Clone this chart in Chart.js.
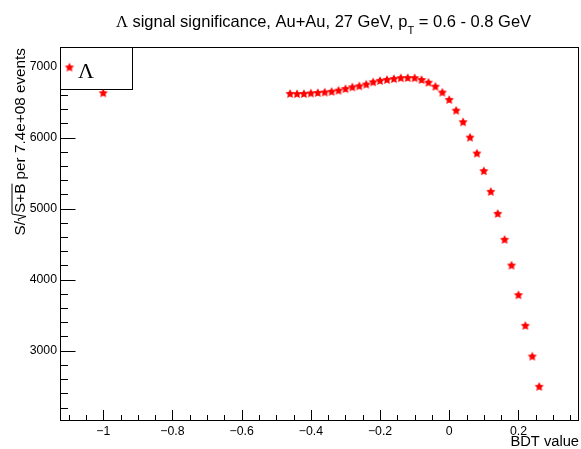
<!DOCTYPE html>
<html>
<head>
<meta charset="utf-8">
<script src="https://cdn.jsdelivr.net/npm/chart.js@4/dist/chart.umd.min.js"></script>
<style>
  html, body { margin: 0; padding: 0; background: #fff; }
  canvas { display: block; }
</style>
</head>
<body>
<canvas id="sig" width="581" height="449"></canvas>
<script>
// BDT cut value and the resulting significance
const bdtValues = [
  -1.00,
  -0.46, -0.44, -0.42, -0.40, -0.38, -0.36, -0.34, -0.32, -0.30, -0.28,
  -0.26, -0.24, -0.22, -0.20, -0.18, -0.16, -0.14, -0.12, -0.10, -0.08,
  -0.06, -0.04, -0.02, 0.00, 0.02, 0.04, 0.06, 0.08, 0.10, 0.12,
  0.14, 0.16, 0.18, 0.20, 0.22, 0.24, 0.26
];
const significance = [
  6624,
  6615, 6612, 6614, 6622, 6628, 6635, 6645, 6660, 6683, 6707,
  6722, 6746, 6778, 6798, 6812, 6824, 6836, 6838, 6836, 6811,
  6773, 6717, 6633, 6530, 6379, 6216, 6000, 5775, 5527, 5236,
  4926, 4561, 4199, 3782, 3350, 2918, 2492
];

const xTicks = [-1, -0.8, -0.6, -0.4, -0.2, 0, 0.2];
const yTicks = [3000, 4000, 5000, 6000, 7000];
const xRange = [-1.125, 0.375];
const yRange = [2010, 7275];

const FONT = '"Liberation Sans", Arial, sans-serif';
const SERIF = '"Liberation Serif", "Times New Roman", serif';

// filled 5-point star marker
function makeStar(color, r) {
  const size = Math.ceil(r * 2 + 2);
  const c = document.createElement('canvas');
  c.width = size; c.height = size;
  const g = c.getContext('2d');
  const cx = size / 2, cy = size / 2;
  g.beginPath();
  for (let i = 0; i < 10; i++) {
    const rad = i % 2 === 0 ? r : r * 0.5;
    const a = -Math.PI / 2 + i * Math.PI / 5;
    const px = cx + rad * Math.cos(a), py = cy + rad * Math.sin(a);
    if (i === 0) g.moveTo(px, py); else g.lineTo(px, py);
  }
  g.closePath();
  g.fillStyle = color;
  g.fill();
  return c;
}
const star = makeStar('#ff0000', 4.8);

function fmtTick(v) {
  const r = Math.round(v * 10) / 10;
  return String(r).replace('-', '\u2212');
}

// draw a run of [text, font, dy] pieces starting at x
function drawRun(ctx, parts, x, y) {
  for (const [t, f, dy] of parts) {
    ctx.font = f;
    ctx.fillText(t, x, y + dy);
    x += ctx.measureText(t).width;
  }
  return x;
}
function runWidth(ctx, parts) {
  let w = 0;
  for (const [t, f] of parts) { ctx.font = f; w += ctx.measureText(t).width; }
  return w;
}

// frame, inward ticks, title, axis titles and legend
const decorations = {
  id: 'decorations',
  afterDraw(chart) {
    const { ctx, chartArea: a, scales: { x, y } } = chart;
    ctx.save();
    ctx.strokeStyle = '#000';
    ctx.lineWidth = 1;
    ctx.strokeRect(a.left + 0.5, a.top + 0.5, a.right - a.left - 1, a.bottom - a.top - 1);

    ctx.beginPath();
    for (let v = -1.1; v <= xRange[1]; v += 0.05) {
      const px = Math.round(x.getPixelForValue(v)) + 0.5;
      const major = Math.abs(v / 0.2 - Math.round(v / 0.2)) < 1e-6;
      ctx.moveTo(px, a.bottom);
      ctx.lineTo(px, a.bottom - (major ? 11 : 6));
    }
    for (let v = 2200; v <= yRange[1]; v += 200) {
      const py = Math.round(y.getPixelForValue(v)) + 0.5;
      const major = v % 1000 === 0;
      ctx.moveTo(a.left, py);
      ctx.lineTo(a.left + (major ? 15.5 : 8), py);
    }
    ctx.stroke();

    // title with subscript
    ctx.fillStyle = '#000';
    ctx.textBaseline = 'alphabetic';
    const tFont = '16.5px ' + FONT;
    const title = [
      ['\u039b', '16.5px ' + SERIF, 0],
      [' signal significance, Au+Au, 27 GeV, p', tFont, 0],
      ['T', '11px ' + FONT, 7],
      [' = 0.6 - 0.8 GeV', tFont, 0]
    ];
    drawRun(ctx, title, 323.5 - runWidth(ctx, title) / 2, 27);

    // x title
    ctx.font = '14.7px ' + FONT;
    ctx.textAlign = 'right';
    ctx.fillText('BDT value', 579, 446);

    // y title, rotated, with a drawn radical
    ctx.save();
    ctx.translate(25, 48);
    ctx.rotate(-Math.PI / 2);
    ctx.textAlign = 'left';
    ctx.font = '15.3px ' + FONT;
    const a1 = 'S/', a2 = 'S+B', a3 = ' per 7.4e+08 events';
    const radW = 8;
    const wa1 = ctx.measureText(a1).width, wa2 = ctx.measureText(a2).width, wa3 = ctx.measureText(a3).width;
    let sx = -(wa1 + radW + wa2 + wa3);
    ctx.fillText(a1, sx, 0); sx += wa1;
    ctx.beginPath();
    ctx.moveTo(sx, -6);
    ctx.lineTo(sx + 2, -7);
    ctx.lineTo(sx + 4.5, 1);
    ctx.lineTo(sx + radW - 1, -13);
    ctx.lineTo(sx + radW + wa2, -13);
    ctx.stroke();
    sx += radW;
    ctx.fillText(a2, sx, 0); sx += wa2;
    ctx.fillText(a3, sx, 0);
    ctx.restore();

    // legend
    ctx.fillStyle = '#fff';
    ctx.fillRect(60, 47, 72, 42);
    ctx.strokeRect(60.5, 47.5, 72, 42);
    ctx.drawImage(star, 69.5 - star.width / 2, 67.5 - star.height / 2);
    ctx.fillStyle = '#000';
    ctx.font = '22px ' + SERIF;
    ctx.textAlign = 'left';
    ctx.fillText(chart.data.datasets[0].label, 78, 78);
    ctx.restore();
  }
};

new Chart(document.getElementById('sig'), {
  type: 'scatter',
  data: {
    datasets: [{
      label: '\u039b',
      data: bdtValues.map((v, i) => ({ x: v, y: significance[i] })),
      pointStyle: star,
      pointRadius: 5,
      showLine: false,
    }]
  },
  options: {
    responsive: false,
    animation: false,
    devicePixelRatio: 1,
    layout: { autoPadding: false, padding: { top: 47, right: 2, left: 0, bottom: 0 } },
    plugins: {
      legend: { display: false },
      title: { display: false },
      tooltip: { enabled: false }
    },
    scales: {
      x: {
        type: 'linear',
        min: xRange[0],
        max: xRange[1],
        grid: { display: false, drawTicks: false },
        border: { display: false },
        ticks: {
          color: '#000',
          font: { family: FONT, size: 12.3 },
          padding: 3,
          autoSkip: false,
          maxRotation: 0,
          callback: v => fmtTick(v)
        },
        afterBuildTicks: s => { s.ticks = xTicks.map(v => ({ value: v })); },
        afterFit: s => { s.height = 28; s.paddingLeft = 0; s.paddingRight = 0; }
      },
      y: {
        type: 'linear',
        min: yRange[0],
        max: yRange[1],
        grid: { display: false, drawTicks: false },
        border: { display: false },
        ticks: {
          color: '#000',
          font: { family: FONT, size: 12.3 },
          padding: 3,
          autoSkip: false,
          callback: v => String(v)
        },
        afterBuildTicks: s => { s.ticks = yTicks.map(v => ({ value: v })); },
        afterFit: s => { s.width = 60; s.paddingTop = 0; s.paddingBottom = 0; }
      }
    }
  },
  plugins: [decorations]
});
</script>
</body>
</html>
